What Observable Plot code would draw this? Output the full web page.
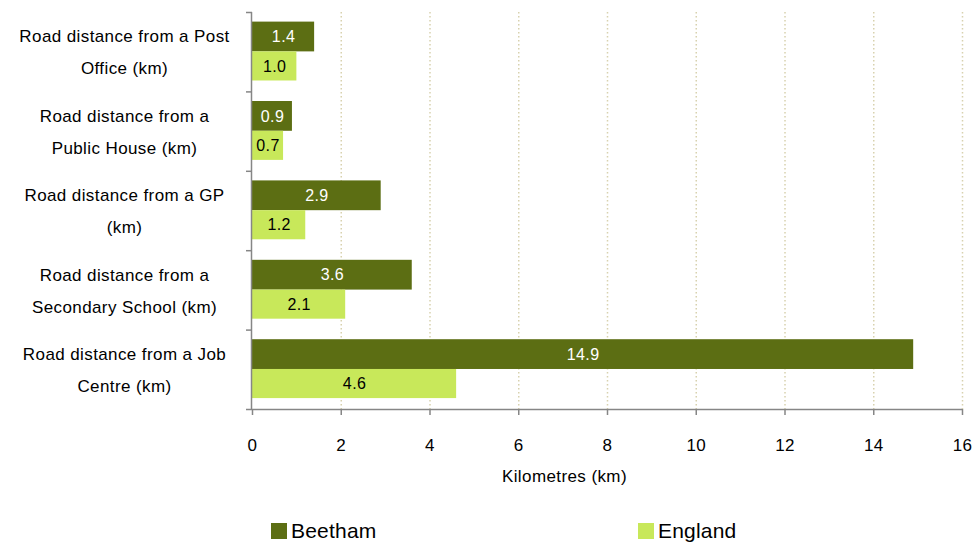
<!DOCTYPE html>
<html>
<head>
<meta charset="utf-8">
<script src="https://cdn.jsdelivr.net/npm/d3@7"></script>
<script src="https://cdn.jsdelivr.net/npm/@observablehq/plot@0.6"></script>
<style>
  body { margin: 0; background: #fff; font-family: "Liberation Sans", Arial, sans-serif; }
  #wrap { position: relative; width: 973px; height: 542px; }
  .leg { position: absolute; top: 519px; display: flex; align-items: center; font-size: 21px; color: #000; letter-spacing: 0.2px; }
  .sw { width: 16px; height: 16px; margin-right: 4px; }
</style>
</head>
<body>
<div id="wrap">
  <div id="chart"></div>
  <div class="leg" style="left:271px"><span class="sw" style="background:#5c6e13"></span>Beetham</div>
  <div class="leg" style="left:638px"><span class="sw" style="background:#c8e85a"></span>England</div>
</div>
<script>
const categories = [
  "Road distance from a Post\nOffice (km)",
  "Road distance from a\nPublic House (km)",
  "Road distance from a GP\n(km)",
  "Road distance from a\nSecondary School (km)",
  "Road distance from a Job\nCentre (km)"
];
const seriesNames = ["Beetham", "England"];
const beetham = [1.4, 0.9, 2.9, 3.6, 14.9];
const england = [1.0, 0.7, 1.2, 2.1, 4.6];
const xTicks = [0, 2, 4, 6, 8, 10, 12, 14, 16];
const colors = {Beetham: "#5c6e13", England: "#c8e85a"};
const labelColors = {Beetham: "#ffffff", England: "#000000"};

const rows = [];
categories.forEach((c, i) => {
  rows.push({cat: c, i, series: seriesNames[0], value: beetham[i], y1: i + 0.121, y2: i + 0.496});
  rows.push({cat: c, i, series: seriesNames[1], value: england[i], y1: i + 0.496, y2: i + 0.8625});
});
const boundaries = d3.range(categories.length + 1);

const chart = Plot.plot({
  width: 973,
  height: 500,
  marginLeft: 252,
  marginRight: 11,
  marginTop: 12,
  marginBottom: 91,
  style: {fontFamily: "'Liberation Sans', Arial, sans-serif", background: "#fff", letterSpacing: "0.4px"},
  x: {domain: [0, 16]},
  y: {domain: [0, categories.length], reverse: true, axis: null},
  marks: [
    Plot.ruleX(xTicks.filter(d => d > 0), {stroke: "#d8d1ae", strokeWidth: 1.5, strokeDasharray: "1.5,2.5"}),
    Plot.rectX(rows, {x1: 0, x2: "value", y1: "y1", y2: "y2", fill: d => colors[d.series]}),
    Plot.text(rows, {x: d => d.value / 2, y: d => (d.y1 + d.y2) / 2, text: d => d.value.toFixed(1),
      fill: d => labelColors[d.series], fontSize: 16}),
    Plot.text(categories, {x: 0, y: (d, i) => i + 0.5, text: d => d, dx: -128, dy: -4, textAnchor: "middle",
      lineHeight: 1.88, fontSize: 17, fill: "#000"}),
    Plot.ruleX([0], {stroke: "#868686", strokeWidth: 1.5, dx: -1}),
    Plot.ruleY([categories.length], {stroke: "#868686", strokeWidth: 1.5}),
    Plot.axisY(boundaries, {anchor: "left", tickSize: 6, tickFormat: () => "", stroke: "#868686", strokeWidth: 1.5, label: null}),
    Plot.axisX(xTicks, {anchor: "bottom", tickSize: 6, tickPadding: 23, fontSize: 17, stroke: "#868686",
      strokeWidth: 1.5, fill: "#000", label: null}),
    Plot.text(["Kilometres (km)"], {frameAnchor: "bottom", x: 7.03, dy: 72, fontSize: 17, fill: "#000"})
  ]
});
document.getElementById("chart").appendChild(chart);
</script>
</body>
</html>
